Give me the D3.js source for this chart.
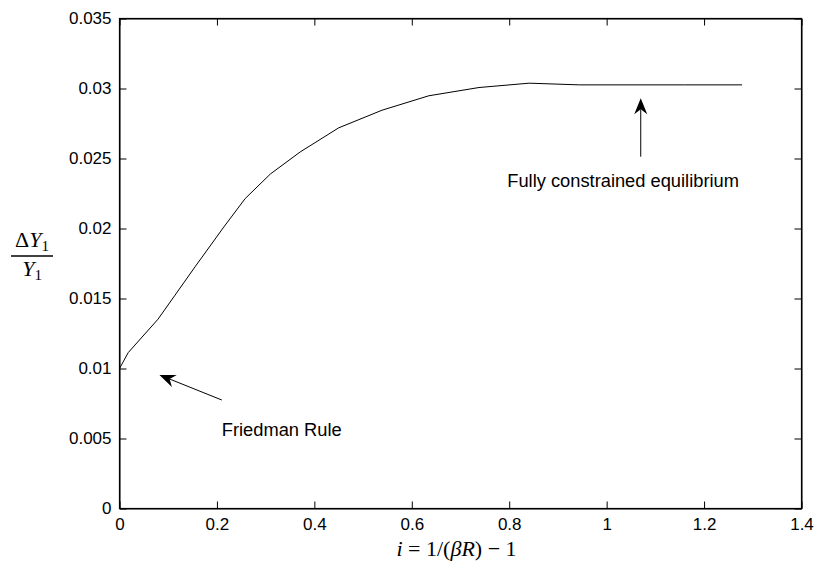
<!DOCTYPE html>
<html>
<head>
<meta charset="utf-8">
<script src="https://cdn.jsdelivr.net/npm/d3@7"></script>
<style>
  body { margin: 0; background: #fff; }
  svg text { font-family: "Liberation Sans", Arial, Helvetica, sans-serif; }
  .tex { font-family: "Liberation Serif", "Times New Roman", serif; }
</style>
</head>
<body>
<div id="chart"></div>
<script>
// values
var rateVals = [0, 0.018, 0.079, 0.114, 0.155, 0.214, 0.258, 0.31, 0.371, 0.45, 0.539, 0.635, 0.738, 0.841, 0.944, 1.05, 1.16, 1.278],
    outputVals = [0.0100, 0.01114, 0.01352, 0.01524, 0.01726, 0.0201, 0.02214, 0.0239, 0.02547, 0.02719, 0.02845, 0.02948, 0.03007, 0.03038, 0.03026, 0.03026, 0.03026, 0.03026];

var xTicks = [0, 0.2, 0.4, 0.6, 0.8, 1, 1.2, 1.4],
    yTicks = [0, 0.005, 0.01, 0.015, 0.02, 0.025, 0.03, 0.035];

// annotations: [tip x, tip y, tail x, tail y, text x, text y, label]
var notes = [
  [0.082, 0.00954, 0.21, 0.00775, 0.21, 0.0052, "Friedman Rule"],
  [1.07, 0.0293, 1.07, 0.02513, 0.796, 0.02294, "Fully constrained equilibrium"]
];

var W = 817, H = 565,
    m = {l: 119.5, r: 15.5, t: 18.5, b: 56.5},
    w = W - m.l - m.r,
    h = H - m.t - m.b;

var x = d3.scaleLinear().domain([0, 1.4]).range([0, w]),
    y = d3.scaleLinear().domain([0, 0.035]).range([h, 0]);

var svg = d3.select("#chart").append("svg")
    .attr("width", W)
    .attr("height", H);

var g = svg.append("g")
    .attr("transform", "translate(" + m.l + "," + m.t + ")");

var fmt = function(d) { return String(+d.toFixed(3)); };

g.append("g")
    .attr("transform", "translate(0," + h + ")")
    .call(d3.axisBottom(x).tickValues(xTicks).tickFormat(fmt).tickSizeInner(-7).tickSizeOuter(0).tickPadding(9));
g.append("g")
    .call(d3.axisLeft(y).tickValues(yTicks).tickFormat(fmt).tickSizeInner(-7).tickSizeOuter(0).tickPadding(8));
g.append("g")
    .call(d3.axisTop(x).tickValues(xTicks).tickFormat("").tickSizeInner(-7).tickSizeOuter(0));
g.append("g")
    .attr("transform", "translate(" + w + ",0)")
    .call(d3.axisRight(y).tickValues(yTicks).tickFormat("").tickSizeInner(-7).tickSizeOuter(0));

g.selectAll(".tick text")
    .style("font-size", "17px")
    .attr("fill", "#000");
g.selectAll(".tick line").attr("stroke", "#000");
g.selectAll(".domain").attr("stroke", "#000");

g.append("rect")
    .attr("width", w)
    .attr("height", h)
    .attr("fill", "none")
    .attr("stroke", "#000")
    .attr("stroke-width", 1.2);

var line = d3.line()
    .x(function(d, i) { return x(rateVals[i]); })
    .y(function(d) { return y(d); });

g.append("path")
    .attr("d", line(outputVals))
    .attr("fill", "none")
    .attr("stroke", "#000")
    .attr("stroke-width", 1);

// arrows with notched heads
notes.forEach(function(n) {
  var tx = x(n[0]), ty = y(n[1]), sx = x(n[2]), sy = y(n[3]);
  var dx = sx - tx, dy = sy - ty, len = Math.sqrt(dx * dx + dy * dy);
  var ux = dx / len, uy = dy / len, px = -uy, py = ux;
  var L = 16, hw = 6.5, notch = 11;
  g.append("line")
      .attr("x1", tx + ux * notch).attr("y1", ty + uy * notch)
      .attr("x2", sx).attr("y2", sy)
      .attr("stroke", "#000").attr("stroke-width", 1);
  g.append("path")
      .attr("d", "M" + tx + "," + ty +
        "L" + (tx + ux * L + px * hw) + "," + (ty + uy * L + py * hw) +
        "L" + (tx + ux * notch) + "," + (ty + uy * notch) +
        "L" + (tx + ux * L - px * hw) + "," + (ty + uy * L - py * hw) + "Z")
      .attr("fill", "#000");
  g.append("text")
      .attr("x", x(n[4]))
      .attr("y", y(n[5]))
      .style("font-size", "18.3px")
      .text(n[6]);
});

// y label: fraction
var yl = svg.append("g").attr("class", "tex").attr("transform", "translate(32,0)");
var num = yl.append("text").attr("class", "tex").attr("y", 247).attr("text-anchor", "middle").style("font-size", "22px");
num.append("tspan").text("\u0394");
num.append("tspan").style("font-style", "italic").text("Y");
num.append("tspan").attr("dy", 4).style("font-size", "15px").text("1");
yl.append("line")
    .attr("x1", -21).attr("x2", 21)
    .attr("y1", 256).attr("y2", 256)
    .attr("stroke", "#000").attr("stroke-width", 1.6);
var den = yl.append("text").attr("class", "tex").attr("y", 276).attr("text-anchor", "middle").style("font-size", "22px");
den.append("tspan").style("font-style", "italic").text("Y");
den.append("tspan").attr("dy", 4).style("font-size", "15px").text("1");

// x label
var xl = svg.append("text").attr("class", "tex")
    .attr("x", m.l + w / 2 - 4)
    .attr("y", 556)
    .attr("text-anchor", "middle")
    .style("font-size", "22px");
xl.append("tspan").style("font-style", "italic").text("i");
xl.append("tspan").text(" = 1/(");
xl.append("tspan").style("font-style", "italic").text("\u03B2R");
xl.append("tspan").text(") \u2212 1");
</script>
</body>
</html>
